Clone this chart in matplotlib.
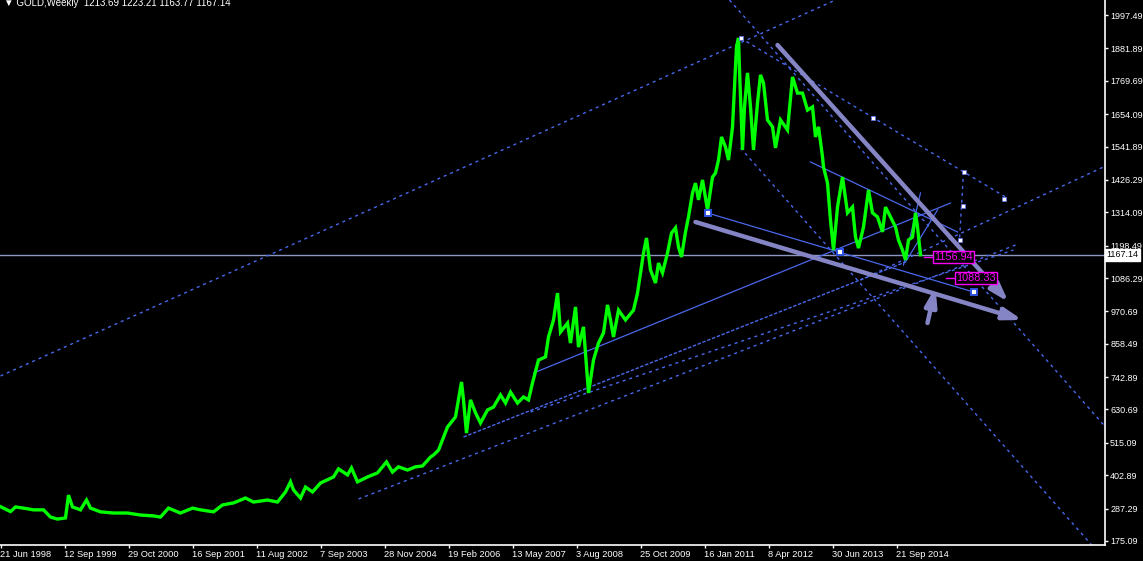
import matplotlib
matplotlib.use('Agg')
import matplotlib.pyplot as plt

plt.rcParams['font.family'] = ['Liberation Sans', 'DejaVu Sans']

# weekly gold, bar index (1 bar = 1 week on chart) and price
bars = [0, 10, 15, 23, 33, 43, 50, 57, 65, 68, 72, 80, 86, 90, 100, 113, 127, 140, 153, 160,
        168, 180, 192, 200, 213, 222, 233, 245, 253, 267, 277, 285, 290, 293, 300, 305, 312, 320,
        333, 338, 347, 351, 357, 367, 377, 386, 392, 398, 407, 415, 422, 430, 433, 438, 447, 455,
        461, 463, 466, 470, 475, 480, 487, 493, 500, 505, 510, 517, 523, 528, 532, 538, 545, 548,
        553, 557, 560, 567, 570, 575, 578, 583, 588, 593, 598, 603, 607, 610, 613, 618, 625, 633,
        637, 643, 646, 650, 655, 658, 662, 667, 671, 675, 678, 681, 685, 688, 692, 695, 698, 702,
        707, 712, 715, 718, 721, 725, 728, 732, 734, 736, 738, 739, 742, 744, 747, 750, 753, 757,
        760, 763, 767, 772, 775, 780, 787, 792, 797, 802, 807, 812, 815, 818, 822, 823, 827, 830,
        833, 837, 842, 847, 852, 855, 858, 863, 868, 872, 877, 882, 885, 890, 895, 898, 902, 905,
        908, 912, 915, 917, 920]
price = [294, 277, 293, 289, 283, 283, 258, 251, 255, 334, 293, 283, 317, 289, 276, 272, 272, 265, 262, 258,
         289, 272, 289, 283, 276, 300, 307, 324, 310, 317, 310, 345, 380, 352, 324, 362, 345, 376,
         397, 425, 404, 428, 380, 397, 411, 449, 414, 432, 421, 432, 435, 466, 473, 490, 570, 605,
         726, 664, 549, 664, 619, 584, 629, 639, 681, 653, 691, 653, 674, 664, 723, 802, 813, 882,
         941, 1034, 899, 930, 861, 986, 847, 917, 688, 802, 861, 896, 993, 941, 882, 975, 941, 975,
         1034, 1173, 1225, 1114, 1069, 1138, 1104, 1173, 1242, 1260, 1194, 1159, 1246, 1298, 1381, 1415, 1357, 1426,
         1322, 1436, 1450, 1495, 1575, 1540, 1495, 1609, 1748, 1887, 1918, 1807, 1530, 1679, 1797, 1679, 1530, 1693,
         1790, 1762, 1634, 1610, 1537, 1634, 1599, 1783, 1727, 1727, 1668, 1679, 1575, 1610, 1506, 1471, 1415, 1287,
         1183, 1332, 1436, 1312, 1332, 1228, 1190, 1263, 1391, 1312, 1298, 1246, 1332, 1298, 1263, 1218, 1183, 1149,
         1218, 1228, 1312, 1263, 1167]

last_price = 1167.14

date_ticks = [0, 64, 128, 192, 256, 320, 384, 448, 512, 576, 640, 704, 768, 832, 896]
date_labels = ['21 Jun 1998', '12 Sep 1999', '29 Oct 2000', '16 Sep 2001', '11 Aug 2002', '7 Sep 2003',
               '28 Nov 2004', '19 Feb 2006', '13 May 2007', '3 Aug 2008', '25 Oct 2009', '16 Jan 2011',
               '8 Apr 2012', '30 Jun 2013', '21 Sep 2014']
price_ticks = [1997.49, 1881.89, 1769.69, 1654.09, 1541.89, 1426.29, 1314.09, 1198.49, 1086.29,
               970.69, 858.49, 742.89, 630.69, 515.09, 402.89, 287.29, 175.09]

# drawn objects: (bar0, price0, bar1, price1)
dashed_lines = [(0, 746.8, 835, 2049.5), (729, 2049.5, 1105, 570.1), (740, 1536.7, 1100, 126.6),
                (740, 1917.8, 1005, 1366.9), (963, 1453.5, 959, 1217.9), (860, 1079.4, 1105, 1474.3),
                (358, 320.6, 1015, 1200.6), (530, 622.1, 1013, 1183.3)]
dense_lines = [(463, 535.4, 905, 1141.7)]
solid_lines = [(533, 757.2, 950, 1346.1), (707, 1311.5, 973, 1037.8), (810, 1488.2, 957, 1245.7),
               (903, 1131.3, 920, 1380.8), (905, 1141.7, 937, 1321.9)]
arrows = [(777, 1893.5, 1008, 1003.2), (695, 1280.3, 1022, 940.8), (927, 930.4, 935, 1055.1)]
white_pts_x = [740, 872, 963, 1003, 962, 959]
white_pts_y = [1917.8, 1640.6, 1453.5, 1360.0, 1335.7, 1217.9]
box_pts_x = [707, 839, 973]
box_pts_y = [1311.5, 1176.4, 1037.8]
level_text = ['1156.94', '1088.33']
level_x = [934, 956]
level_y = [1159.0, 1086.3]

W, H = 1143, 561
fig = plt.figure(figsize=(W / 100, H / 100), dpi=100, facecolor='black')
ax = fig.add_axes([0, 16 / H, 1105 / W, 545 / H], facecolor='black')
ax.set_xlim(-0.5, 1104.5)
ax.set_ylim(161.2, 2049.5)

blue = '#4a68ec'
lav = '#8585c6'

ax.axhline(last_price, color='#8c96c0', lw=1, zorder=1)

for x0, y0, x1, y1 in dashed_lines:
    ax.plot([x0, x1], [y0, y1], color=blue, lw=1, ls=(0, (2.2, 2.8)), zorder=2)
for x0, y0, x1, y1 in dense_lines:
    ax.plot([x0, x1], [y0, y1], color=blue, lw=1, ls=(0, (2.5, 1.2)), zorder=2)
for x0, y0, x1, y1 in solid_lines:
    ax.plot([x0, x1], [y0, y1], color=blue, lw=0.9, zorder=2)

ax.plot(bars, price, color='#00ff00', lw=2.4, zorder=3, solid_joinstyle='miter')

for x0, y0, x1, y1 in arrows:
    ax.annotate('', xy=(x1, y1), xytext=(x0, y0),
                arrowprops=dict(arrowstyle='-|>,head_length=1.1,head_width=0.35', lw=3.2,
                                color=lav, shrinkA=0, shrinkB=0), zorder=4)

ax.plot(white_pts_x, white_pts_y, 's', ms=3.2, mfc='white', mec='#6070e0', mew=0.6, zorder=5)
ax.plot(box_pts_x, box_pts_y, 's', ms=4.5, mfc='white', mec='#3050e0', mew=1.4, zorder=5)

for t, x, y in zip(level_text, level_x, level_y):
    ax.plot([x - 11, x], [y, y], color='#ff00ff', lw=1, zorder=5)
    ax.text(x, y, t, color='#ff00ff', fontsize=7.8, ha='left', va='center', zorder=6,
            bbox=dict(boxstyle='square,pad=0.12', fc='black', ec='#ff00ff', lw=1))

# axes frame / ticks like MT4
for s in ['top', 'left']:
    ax.spines[s].set_visible(False)
for s in ['right', 'bottom']:
    ax.spines[s].set_color('white')
    ax.spines[s].set_linewidth(1.2)
ax.yaxis.tick_right()
ax.set_yticks(price_ticks)
ax.set_yticklabels(['%.2f' % v for v in price_ticks])
ax.set_xticks(date_ticks)
ax.set_xticklabels(date_labels, ha='left')
ax.tick_params(colors='white', labelsize=6.5, length=2.5, width=1, pad=1.2)
ax.tick_params(axis='x', labelsize=6.7, pad=1)

ax.text(1.0 + 1.5 / 1105, last_price, '%.2f' % last_price, transform=ax.get_yaxis_transform(),
        color='black', fontsize=6.5, ha='left', va='center', clip_on=False, zorder=10,
        bbox=dict(boxstyle='square,pad=0.15', fc='white', ec='white'))

fig.text(4 / W, 1 - 6 / H, '\u25bc GOLD,Weekly  1213.69 1223.21 1163.77 1167.14', color='white',
         fontsize=7, ha='left', va='baseline')

fig.savefig('out.png', dpi=100, facecolor='black')
